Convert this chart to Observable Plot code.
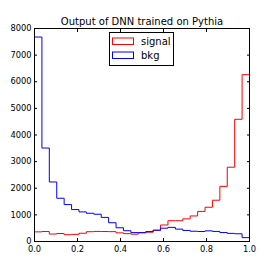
<!DOCTYPE html>
<html>
<head>
<meta charset="utf-8">
<script src="https://cdn.jsdelivr.net/npm/d3@7"></script>
<script src="https://cdn.jsdelivr.net/npm/@observablehq/plot@0.6"></script>
<style>
  html, body { margin: 0; padding: 0; background: #fff; }
  svg { display: block; }
</style>
</head>
<body>
<div id="chart"></div>
<script>
const title = "Output of DNN trained on Pythia";
const seriesNames = ["signal", "bkg"];
const seriesColors = ["#ff0000", "#0000ff"];
// counts per bin (29 equal bins over [0, 1])
const signalCounts = [362, 375, 280, 300, 255, 268, 310, 368, 378, 375, 370, 325, 295, 275, 325, 350, 420, 620, 780, 780, 850, 960, 1130, 1286, 1550, 2070, 2790, 4590, 6265];
const bkgCounts = [7680, 3510, 2235, 1624, 1386, 1199, 1111, 1061, 1024, 905, 705, 515, 405, 335, 335, 372, 425, 500, 530, 465, 415, 385, 375, 400, 378, 336, 305, 290, 145];
const xTicks = [0, 0.2, 0.4, 0.6, 0.8, 1.0];
const yTicks = [0, 1000, 2000, 3000, 4000, 5000, 6000, 7000, 8000];

function outline(counts, name) {
  const n = counts.length;
  const pts = [{x: 0, y: 0, s: name}];
  counts.forEach((c, i) => pts.push({x: i / n, y: c, s: name}));
  pts.push({x: 1, y: counts[n - 1], s: name});
  pts.push({x: 1, y: 0, s: name});
  return pts;
}
const sig = outline(signalCounts, seriesNames[0]);
const bkg = outline(bkgCounts, seriesNames[1]);

const font = "DejaVu Sans, Bitstream Vera Sans, sans-serif";
const plot = Plot.plot({
  width: 277,
  height: 277,
  marginLeft: 34,
  marginRight: 28,
  marginTop: 28,
  marginBottom: 36,
  style: {fontFamily: font, fontSize: "8.3px", color: "#000", background: "#fff"},
  x: {domain: [0, 1]},
  y: {domain: [0, 8000]},
  marks: [
    Plot.line(sig, {x: "x", y: "y", curve: "step-after", stroke: seriesColors[0], strokeWidth: 1}),
    Plot.line(bkg, {x: "x", y: "y", curve: "step-after", stroke: seriesColors[1], strokeWidth: 1}),
    Plot.axisY(yTicks, {anchor: "left", tickSize: 0, tickPadding: 3, tickFormat: d => String(d), label: null}),
    Plot.axisY(yTicks, {anchor: "left", tickSize: -3, tickFormat: () => "", label: null}),
    Plot.axisY(yTicks, {anchor: "right", tickSize: -3, tickFormat: () => "", label: null}),
    Plot.axisX(xTicks, {anchor: "bottom", tickSize: 0, tickPadding: 5, tickFormat: d => d.toFixed(1), label: null}),
    Plot.axisX(xTicks, {anchor: "bottom", tickSize: -3, tickFormat: () => "", label: null}),
    Plot.axisX(xTicks, {anchor: "top", tickSize: -3, tickFormat: () => "", label: null}),
    Plot.frame({stroke: "#000", strokeWidth: 1}),
    Plot.text([title], {frameAnchor: "top", dy: -4, lineAnchor: "bottom", fontSize: 10, fill: "#000", text: d => d})
  ]
});

// legend inside the plot area, upper centre
const svg = d3.select(plot);
const lg = svg.append("g").attr("font-family", font).attr("font-size", 10).attr("text-anchor", "start");
lg.append("rect").attr("x", 109.5).attr("y", 32.5).attr("width", 64).attr("height", 33)
  .attr("fill", "#fff").attr("stroke", "#000").attr("stroke-width", 1);
seriesNames.forEach((name, i) => {
  const y0 = 38 + i * 14;
  lg.append("rect").attr("x", 112.5).attr("y", y0).attr("width", 21).attr("height", 6.5)
    .attr("fill", "none").attr("stroke", seriesColors[i]).attr("stroke-width", 1);
  lg.append("text").attr("x", 141).attr("y", y0 + 6.8).attr("fill", "#000")
    .attr("text-anchor", "start").text(name);
});

document.getElementById("chart").appendChild(plot);
</script>
</body>
</html>
